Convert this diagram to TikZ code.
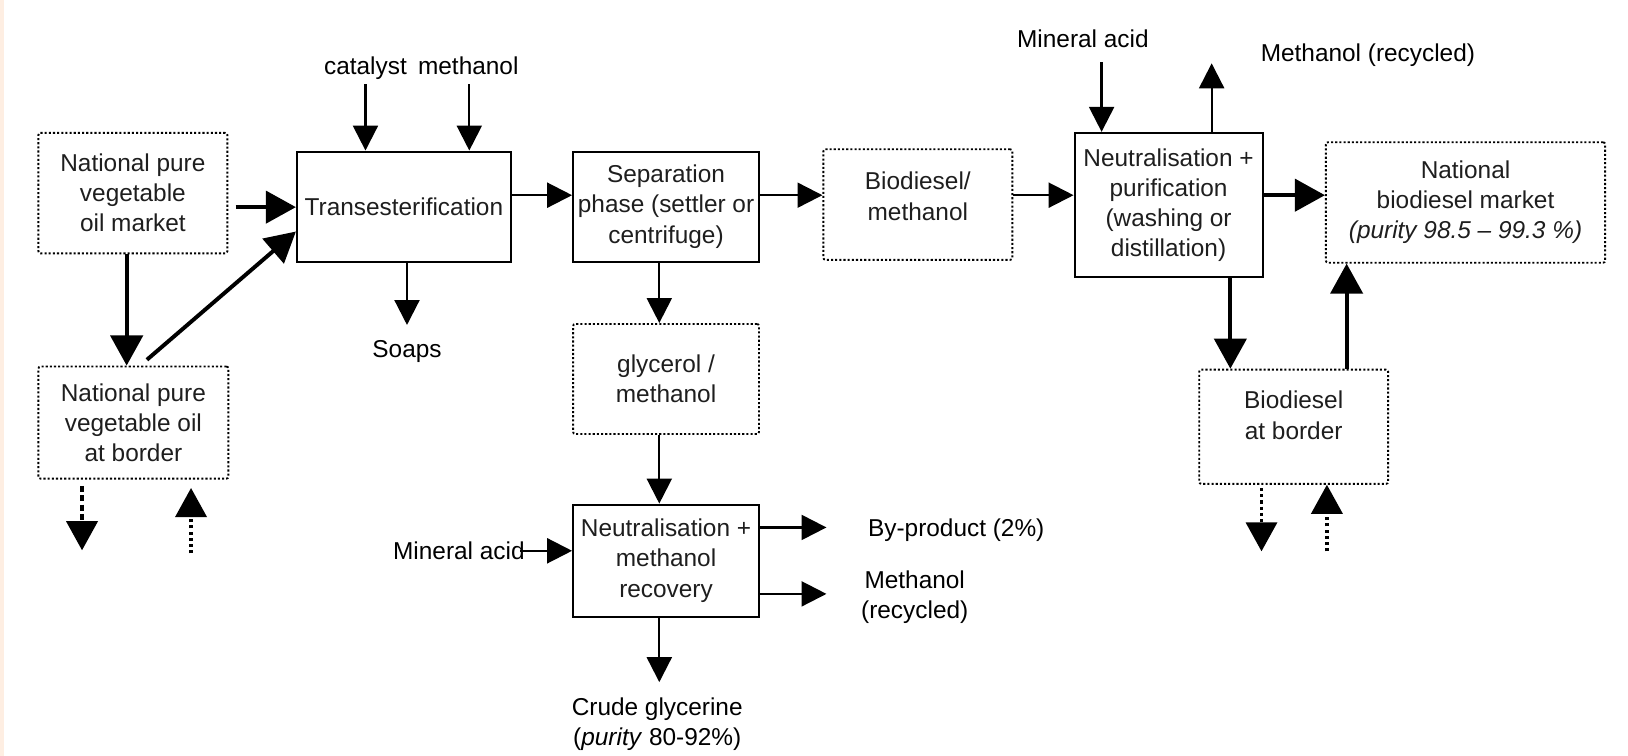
\documentclass[tikz,border=0pt]{standalone}
\usepackage{fontspec}
\setmainfont{Liberation Sans}
\usetikzlibrary{arrows.meta}
\definecolor{stripcol}{RGB}{254,238,226}
\definecolor{boxtext}{RGB}{30,30,30}
\begin{document}
\begin{tikzpicture}[x=1pt,y=-1pt,
  font=\fontsize{23.5}{29}\selectfont,
  sbox/.style={draw, line width=2pt, inner sep=0pt, align=center, text=boxtext},
  dbox/.style={draw, line width=1.8pt, dash pattern=on 2pt off 2pt, rounded corners=2pt, inner sep=0pt, align=center, text=boxtext},
  lbl/.style={inner sep=0pt, align=center},
  thinarr/.style={line width=2.2pt, -{Triangle[width=24pt,length=24pt]}},
  heavyarr/.style={line width=3.8pt, -{Triangle[width=31pt,length=29pt]}},
  dasharr/.style={line width=3.2pt, dash pattern=on 6pt off 3pt, -{Triangle[width=30pt,length=28pt]}},
  dotarr/.style={line width=3.2pt, dash pattern=on 3pt off 3pt, -{Triangle[width=30pt,length=28pt]}}
]
\useasboundingbox (0,0) rectangle (1568,728);
\fill[stripcol] (0,0) rectangle (4,728);

% ---------- boxes ----------
\node[dbox, minimum width=182pt, minimum height=116pt] (mkt) at (128,186) {National pure\\vegetable\\oil market};
\node[dbox, minimum width=183pt, minimum height=108pt] (brd) at (128.5,407) {National pure\\vegetable oil\\at border};
\node[sbox, minimum width=206pt, minimum height=106pt] (trans) at (389,199) {Transesterification};
\node[sbox, minimum width=179pt, minimum height=106pt] (sep) at (641.5,199) {Separation\\phase (settler or\\centrifuge)};
\node[dbox, minimum width=182pt, minimum height=106.5pt] (biom) at (884,197) {};
\node[lbl, text=boxtext] (biomtxt) at ([yshift=8pt]biom.center) {Biodiesel/\\methanol};
\node[sbox, minimum width=181pt, minimum height=139pt] (neutr) at (1125.5,197.5) {Neutralisation +\\purification\\(washing or\\distillation)};
\node[dbox, minimum width=269pt, minimum height=116pt] (nat) at (1411.5,195) {National\\biodiesel market\\\textit{(purity 98.5 – 99.3 \%)}};
\node[dbox, minimum width=182pt, minimum height=110pt] (bdb) at (1246,411) {};
\node[lbl, text=boxtext] (bdbtxt) at ([yshift=11pt]bdb.center) {Biodiesel\\at border};
\node[dbox, minimum width=179pt, minimum height=106pt] (glyc) at (641.5,365) {glycerol /\\methanol};
\node[sbox, minimum width=179pt, minimum height=108pt] (neut2) at (641.5,540) {Neutralisation +\\methanol\\recovery};

% ---------- labels ----------
\node[lbl, anchor=base] (cat) at (352,72) {catalyst};
\node[lbl, anchor=base] (meth) at (451,72) {methanol};
\node[lbl] (soaps) at (392,339) {Soaps};
\node[lbl] (macid1) at (442,530) {Mineral acid};
\node[lbl] (byp) at (921,511) {By-product (2\%)};
\node[lbl] (methrec1) at (881,575) {Methanol\\(recycled)};
\node[lbl] (crude) at (633,697.5) {Crude glycerine\\(\textit{purity} 80-92\%)};
\node[lbl] (macid2) at (1043,37) {Mineral acid};
\node[lbl] (methrec2) at (1317.5,53) {Methanol (recycled)};

% ---------- helper coordinates ----------
\coordinate (catS) at (352,81);
\coordinate (metS) at (452,81);
\coordinate (soapE) at (392,313);
\coordinate (hT) at (0,188);
\coordinate (hM) at (227,199.5);
\coordinate (xV) at (122,0);
\coordinate (dS) at (141.5,346.5);
\coordinate (dE) at (286,223);
\coordinate (xG) at (635,0);
\coordinate (crudeE) at (635,657);
\coordinate (macS) at (501,530.5);
\coordinate (bypE) at (796,508);
\coordinate (mrE) at (796,572);
\coordinate (mac2S) at (1061,60);
\coordinate (mr2E) at (1167,61);
\coordinate (xN) at (1185,0);
\coordinate (xU) at (1297,0);
\coordinate (bdS) at (79,468);
\coordinate (bdE) at (79,530);
\coordinate (buS) at (184,533);
\coordinate (buE) at (184,470);
\coordinate (rdS) at (1215,470);
\coordinate (rdE) at (1215,531);
\coordinate (ruS) at (1278,531);

% ---------- thin connectors ----------
\draw[thinarr] (catS) -- (catS |- trans.north);
\draw[thinarr] (metS) -- (metS |- trans.north);
\draw[thinarr] (soapE |- trans.south) -- (soapE);
\draw[thinarr] (trans.east |- hT) -- (sep.west |- hT);
\draw[thinarr] (sep.east |- hT) -- (biom.west |- hT);
\draw[thinarr] (biom.east |- hT) -- (neutr.west |- hT);
\draw[thinarr] (sep.south -| xG) -- (glyc.north -| xG);
\draw[thinarr] (glyc.south -| xG) -- (neut2.north -| xG);
\draw[thinarr] (neut2.south -| xG) -- (crudeE);
\draw[thinarr] (macS) -- (macS -| neut2.west);
\draw[thinarr] (bypE -| neut2.east) -- (bypE);
\draw[thinarr] (mrE -| neut2.east) -- (mrE);
\draw[thinarr] (mac2S) -- (mac2S |- neutr.north);
\draw[thinarr] (mr2E |- neutr.north) -- (mr2E);

% ---------- heavy connectors ----------
\draw[heavyarr] (hM) -- (hM -| trans.west);
\draw[heavyarr] (mkt.south -| xV) -- (brd.north -| xV);
\draw[heavyarr] (dS) -- (trans.west |- dE);
\draw[heavyarr] (neutr.east |- hT) -- (nat.west |- hT);
\draw[heavyarr] (neutr.south -| xN) -- (bdb.north -| xN);
\draw[heavyarr] (bdb.north -| xU) -- (nat.south -| xU);

% ---------- dashed / dotted border flows ----------
\draw[dasharr] (bdS) -- (bdE);
\draw[dotarr] (buS) -- (buE);
\draw[dotarr] (rdS) -- (rdE);
\draw[dotarr] (ruS) -- (ruS |- bdb.south);
\end{tikzpicture}
\end{document}
